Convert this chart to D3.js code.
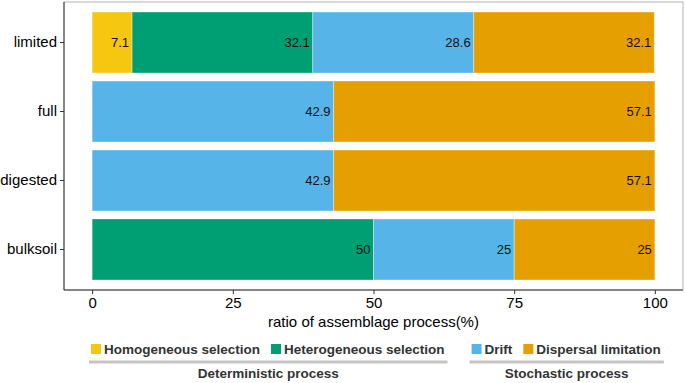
<!DOCTYPE html>
<html>
<head>
<meta charset="utf-8">
<script src="https://cdn.jsdelivr.net/npm/d3@7"></script>
<style>
  body { margin: 0; background: #fff; }
  text { font-family: Arial, "Liberation Sans", sans-serif; }
</style>
</head>
<body>
<div id="chart"></div>
<script>
// data
const samples = ["limited", "full", "digested", "bulksoil"];
const processes = ["Homogeneous selection", "Heterogeneous selection", "Drift", "Dispersal limitation"];
const homogeneous = [7.1, 0, 0, 0];
const heterogeneous = [32.1, 0, 0, 50];
const drift = [28.6, 42.9, 42.9, 25];
const dispersal = [32.1, 57.1, 57.1, 25];
const xTicks = [0, 25, 50, 75, 100];
const groupsLegend = [
  { name: "Deterministic process", members: ["Homogeneous selection", "Heterogeneous selection"] },
  { name: "Stochastic process", members: ["Drift", "Dispersal limitation"] }
];

const colorMap = {
  "Homogeneous selection": "#F5C710",
  "Heterogeneous selection": "#009E73",
  "Drift": "#56B4E9",
  "Dispersal limitation": "#E69F00"
};

const width = 685, height = 383;
const panel = { left: 64, right: 683, top: 2, bottom: 290 };

const svg = d3.select("#chart").append("svg")
  .attr("width", width).attr("height", height);

const x = d3.scaleLinear().domain([-5, 105])
  .range([panel.left, panel.right]);
const y = d3.scaleBand().domain(samples)
  .range([panel.top, panel.bottom]).paddingInner(0.116).paddingOuter(0.145);

// stacked rows
const rows = samples.map((s, i) => ({
  sample: s,
  "Homogeneous selection": homogeneous[i],
  "Heterogeneous selection": heterogeneous[i],
  "Drift": drift[i],
  "Dispersal limitation": dispersal[i]
}));
const stacked = d3.stack().keys(processes)(rows);

const g = svg.append("g");
stacked.forEach(layer => {
  g.selectAll(null).data(layer.filter(d => d[1] - d[0] > 0)).enter()
    .append("rect")
    .attr("x", d => x(d[0]))
    .attr("y", d => y(d.data.sample))
    .attr("width", d => x(d[1]) - x(d[0]))
    .attr("height", y.bandwidth())
    .attr("fill", colorMap[layer.key])
    .attr("stroke", "#ffffff")
    .attr("stroke-opacity", 0.35)
    .attr("stroke-width", 1);
  g.selectAll(null).data(layer.filter(d => d[1] - d[0] > 0)).enter()
    .append("text")
    .attr("x", d => x(d[1]) - 3)
    .attr("y", d => y(d.data.sample) + y.bandwidth() / 2)
    .attr("dy", "0.35em")
    .attr("text-anchor", "end")
    .attr("font-size", "13px")
    .attr("fill", "#111")
    .text(d => d3.format("")(+(d[1] - d[0]).toFixed(1)));
});

// panel border
svg.append("rect")
  .attr("x", panel.left).attr("y", panel.top)
  .attr("width", panel.right - panel.left).attr("height", panel.bottom - panel.top)
  .attr("fill", "none").attr("stroke", "#b3b3b3").attr("stroke-width", 1);
svg.append("line")
  .attr("x1", panel.left).attr("x2", panel.left)
  .attr("y1", panel.top).attr("y2", panel.bottom)
  .attr("stroke", "#333").attr("stroke-width", 1);
svg.append("line")
  .attr("x1", panel.left).attr("x2", panel.right)
  .attr("y1", panel.bottom).attr("y2", panel.bottom)
  .attr("stroke", "#333").attr("stroke-width", 1);

// x axis
const xAxis = svg.append("g")
  .attr("transform", `translate(0,${panel.bottom})`)
  .call(d3.axisBottom(x).tickValues(xTicks).tickSize(4).tickPadding(3));
xAxis.select(".domain").remove();
xAxis.selectAll("line").attr("stroke", "#333");
xAxis.selectAll("text").attr("font-size", "15px").attr("fill", "#000")
  .attr("font-family", "Arial, 'Liberation Sans', sans-serif");

// y axis
const yAxis = svg.append("g")
  .attr("transform", `translate(${panel.left},0)`)
  .call(d3.axisLeft(y).tickSize(4).tickPadding(3));
yAxis.select(".domain").remove();
yAxis.selectAll("line").attr("stroke", "#333");
yAxis.selectAll("text").attr("font-size", "15px").attr("fill", "#000")
  .attr("font-family", "Arial, 'Liberation Sans', sans-serif");

// x title
svg.append("text")
  .attr("x", (x(0) + x(100)) / 2)
  .attr("y", 327)
  .attr("text-anchor", "middle")
  .attr("font-size", "15px")
  .attr("fill", "#000")
  .text("ratio of assemblage process(%)");

// legend
const legendY = 344;
const legend = svg.append("g");
let cx = 91;
groupsLegend.forEach((grp, gi) => {
  const startX = cx;
  grp.members.forEach(m => {
    legend.append("rect")
      .attr("x", cx).attr("y", legendY)
      .attr("width", 10).attr("height", 10)
      .attr("fill", colorMap[m]);
    const t = legend.append("text")
      .attr("x", cx + 13).attr("y", legendY + 5)
      .attr("dy", "0.35em")
      .attr("font-size", "13.5px")
      .attr("font-weight", "bold")
      .attr("fill", "#333")
      .text(m);
    cx += 13 + t.node().getComputedTextLength() + 11;
  });
  const endX = cx - 10;
  legend.append("line")
    .attr("x1", startX - 2).attr("x2", endX + 2)
    .attr("y1", 362).attr("y2", 362)
    .attr("stroke", "#c4c4c4").attr("stroke-width", 3);
  legend.append("text")
    .attr("x", (startX + endX) / 2)
    .attr("y", 378)
    .attr("text-anchor", "middle")
    .attr("font-size", "13.5px")
    .attr("font-weight", "bold")
    .attr("fill", "#333")
    .text(grp.name);
  cx += 16;
});
</script>
</body>
</html>
